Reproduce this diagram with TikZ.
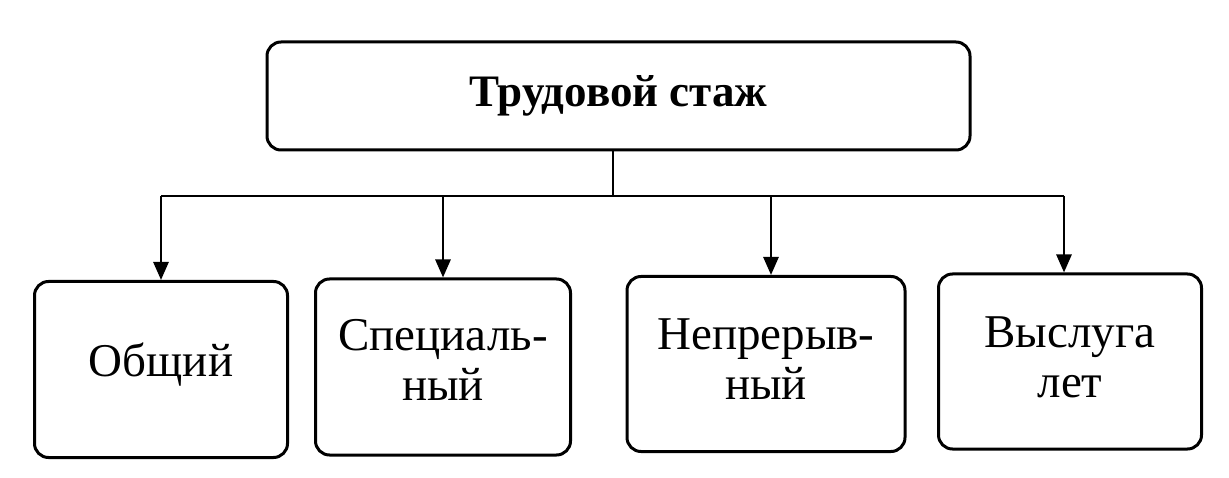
\documentclass[tikz,border=0pt]{standalone}
\usepackage{fontspec}
\setmainfont{Liberation Serif}
\usetikzlibrary{arrows.meta}
\begin{document}
\begin{tikzpicture}[x=1pt,y=-1pt,
  box/.style={draw,line width=3pt,rounded corners=14pt,inner sep=0pt,align=center,
    font=\fontsize{47}{50}\selectfont},
  topbox/.style={box,font=\fontsize{45}{48}\selectfont\bfseries},
  conn/.style={line width=2.7pt},
  arr/.style={conn,-{Triangle[length=18pt,width=15pt]}}]
\useasboundingbox (0,0) rectangle (1229,478);
\node[topbox,minimum width=703pt,minimum height=108pt] (top) at (618.5,96) {Трудовой стаж};
\node[box,minimum width=253pt,minimum height=176pt,text depth=19pt] (b1) at (161,369.5) {Общий};
\node[box,minimum width=255pt,minimum height=176pt,text depth=14pt] (b2) at (443,367) {Специаль-\\ный};
\node[box,minimum width=278pt,minimum height=175pt,text depth=10pt] (b3) at (766,364) {Непрерыв-\\ный};
\node[box,minimum width=263pt,minimum height=175pt,text depth=9pt] (b4) at (1070,361.5) {Выслуга\\лет};
\coordinate (j) at (613,196);
\coordinate (h1) at (161,196);
\coordinate (h2) at (443,196);
\coordinate (h3) at (771,196);
\coordinate (h4) at (1064,196);
\draw[conn] (top.south -| j) -- (j);
\draw[conn] (h1) -- (h4);
\draw[arr] (h1) -- (h1 |- b1.north);
\draw[arr] (h2) -- (h2 |- b2.north);
\draw[arr] (h3) -- (h3 |- b3.north);
\draw[arr] (h4) -- (h4 |- b4.north);
\end{tikzpicture}
\end{document}
